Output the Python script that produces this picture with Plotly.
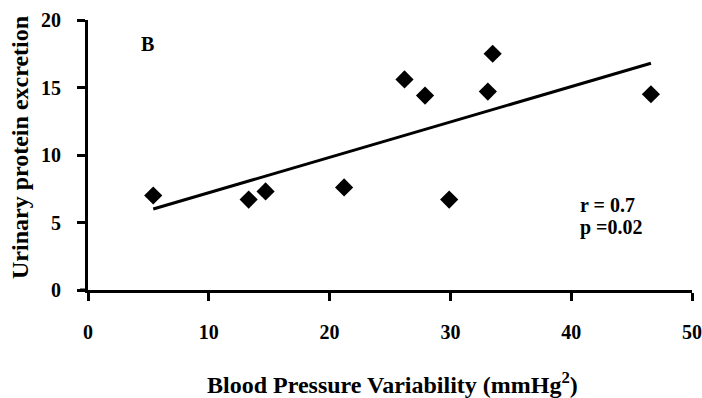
import plotly.graph_objects as go

bpv = [5.4, 13.3, 14.7, 21.2, 26.2, 27.9, 29.9, 33.1, 33.5, 46.6]
upe = [7.0, 6.7, 7.3, 7.6, 15.6, 14.4, 6.7, 14.7, 17.5, 14.5]
trend_x = [5.4, 46.6]
trend_y = [6.0, 16.8]
x_ticks = [0, 10, 20, 30, 40, 50]
y_ticks = [0, 5, 10, 15, 20]

FONT = "Liberation Serif"
L, R, T, B = 88, 10, 20, 108
W, H = 702, 398
PW, PH = W - L - R, H - T - B

def px_x(p):
    return (p - L) / PW

def px_y(p):
    return (H - B - p) / PH

fig = go.Figure()
fig.add_trace(go.Scatter(x=trend_x, y=trend_y, mode="lines",
                         line=dict(color="black", width=3), hoverinfo="skip"))
fig.add_trace(go.Scatter(x=bpv, y=upe, mode="markers",
                         marker=dict(symbol="diamond", size=14, color="black")))

fig.add_annotation(x=4.9, y=18.2, text="<b>B</b>", showarrow=False,
                   font=dict(family=FONT, size=20, color="black"), xanchor="center", yanchor="middle")
fig.add_annotation(x=40.6, y=6.3, text="<b>r = 0.7</b>", showarrow=False,
                   font=dict(family=FONT, size=20, color="black"), xanchor="left", yanchor="middle")
fig.add_annotation(x=40.6, y=4.6, text="<b>p =0.02</b>", showarrow=False,
                   font=dict(family=FONT, size=20, color="black"), xanchor="left", yanchor="middle")

fig.add_annotation(xref="paper", yref="paper", x=0.5 * (px_x(204) + px_x(580)), y=px_y(383),
                   text="<b>Blood Pressure Variability (mmHg<sup>2</sup>)</b>", showarrow=False,
                   font=dict(family=FONT, size=24, color="black"), xanchor="center", yanchor="middle")
fig.add_annotation(xref="paper", yref="paper", x=px_x(20), y=px_y(148), textangle=-90,
                   text="<b>Urinary protein excretion</b>", showarrow=False,
                   font=dict(family=FONT, size=24, color="black"), xanchor="center", yanchor="middle")

# x-axis line extension to the left of the y axis
fig.add_shape(type="line", xref="paper", yref="paper", x0=px_x(80), x1=0, y0=0, y1=0,
              line=dict(color="black", width=3))

fig.update_layout(
    width=W, height=H,
    margin=dict(l=L, r=R, t=T, b=B, autoexpand=False),
    plot_bgcolor="white", paper_bgcolor="white",
    showlegend=False,
    font=dict(family=FONT, color="black"),
    xaxis=dict(range=[0, 50], tickvals=x_ticks, ticktext=[f"<b>{v}</b>" for v in x_ticks],
               showgrid=False, zeroline=False, showline=True, linecolor="black", linewidth=3,
               ticks="outside", ticklen=8, tickwidth=3, tickcolor="black", automargin=False,
               ticklabelstandoff=14,
               tickfont=dict(family=FONT, size=20, color="black")),
    yaxis=dict(range=[0, 20], tickvals=y_ticks, ticktext=[f"<b>{v}</b>" for v in y_ticks],
               showgrid=False, zeroline=False, showline=True, linecolor="black", linewidth=3,
               ticks="outside", ticklen=8, tickwidth=3, tickcolor="black", automargin=False,
               ticklabelstandoff=12,
               tickfont=dict(family=FONT, size=20, color="black")),
)

fig.write_html("out.html")
